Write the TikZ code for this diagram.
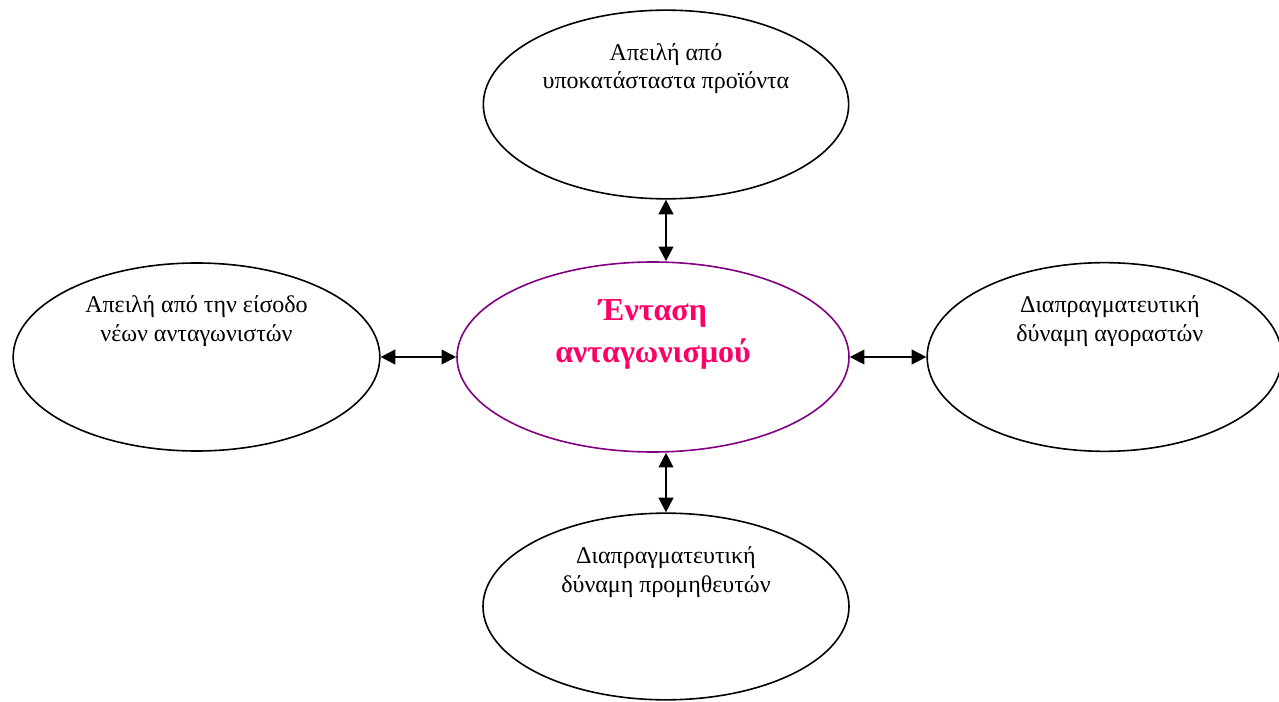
\documentclass[tikz,border=0pt]{standalone}
\usepackage{fontspec}
\setmainfont{Liberation Serif}
\usetikzlibrary{shapes.geometric,arrows.meta}

\definecolor{forcepink}{RGB}{255,0,102}
\definecolor{forcepurple}{RGB}{128,0,128}

\begin{document}
\begin{tikzpicture}[
        x = 0.75pt, y = 0.75pt,
        line join=round,
        force/.style = {ellipse, draw, line width=1.2pt, inner sep=0pt},
        forcetext/.style = {align=center, font=\fontsize{18}{21.5}\selectfont},
        biarrow/.style = {{Triangle[length=11pt,width=11pt]}-{Triangle[length=11pt,width=11pt]}, line width=1.5pt}
    ]

    \useasboundingbox (0,0) rectangle (1279,701);

    \node[force, draw=forcepurple, minimum width=294pt, minimum height=142.5pt] (centre) at (653,344) {};
    \node[force, minimum width=274pt, minimum height=141.5pt] (top) at (666,596.5) {};
    \node[force, minimum width=275pt, minimum height=141pt] (left) at (196.5,344) {};
    \node[force, minimum width=266pt, minimum height=141.5pt] (right) at (1104.5,344) {};
    \node[force, minimum width=274.5pt, minimum height=140pt] (bottom) at (666,94.5) {};

    \node[align=center, text=forcepink, font=\fontsize{24}{31.5}\selectfont\bfseries] (centre-txt) at ([yshift=17pt]centre) {Ένταση\\ανταγωνισμού};
    \node[forcetext] (top-txt) at ([yshift=27pt]top) {Απειλή από\\υποκατάσταστα προϊόντα};
    \node[forcetext] (left-txt) at ([yshift=27pt]left) {Απειλή από την είσοδο\\νέων ανταγωνιστών};
    \node[forcetext] (right-txt) at ([xshift=4pt,yshift=27pt]right) {Διαπραγματευτική\\δύναμη αγοραστών};
    \node[forcetext] (bottom-txt) at ([yshift=26pt]bottom) {Διαπραγματευτική\\δύναμη προμηθευτών};

    \draw[biarrow] (top.south) -- (top.south |- centre.north);
    \draw[biarrow] (bottom.north) -- (bottom.north |- centre.south);
    \draw[biarrow] (left.east) -- (centre.west);
    \draw[biarrow] (centre.east) -- (right.west);
\end{tikzpicture}
\end{document}
